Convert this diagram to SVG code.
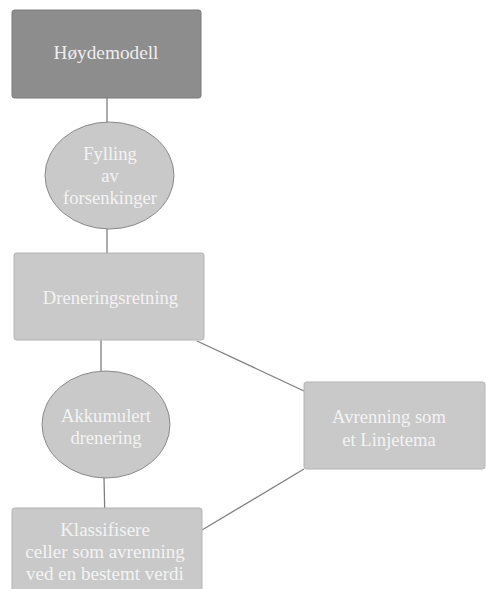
<svg xmlns="http://www.w3.org/2000/svg" width="486" height="589" viewBox="0 0 486 589">
<style>
.bg{fill:#ffffff}
.dark{fill:#8d8d8d;stroke:#7a7a7a;stroke-width:1}
.box{fill:#c9c9c9;stroke:#b3b3b3;stroke-width:1}
.ell{fill:#c9c9c9;stroke:#8a8a8a;stroke-width:1}
.conn line{stroke:#7f7f7f;stroke-width:1.3;fill:none}
text{font-family:"Liberation Serif","Times New Roman",serif;text-anchor:middle;fill:#f3f3f3;font-size:18.6px}
.t1{fill:#ededed;font-size:19.3px}
</style>
<rect class="bg" x="0" y="0" width="486" height="589"/>
<g id="connectors" class="conn">
<line x1="107" y1="98" x2="107" y2="122"/>
<line x1="107" y1="229" x2="107" y2="253"/>
<line x1="101" y1="340" x2="101" y2="371"/>
<line x1="104" y1="478" x2="104.7" y2="508"/>
<line x1="197" y1="341" x2="304" y2="391"/>
<line x1="202" y1="530" x2="304" y2="469"/>
</g>
<g id="hoydemodell">
<rect class="dark" x="12" y="10" width="189" height="88" rx="2.5"/>
<text class="t1" x="106" y="59">Høydemodell</text>
</g>
<g id="fylling">
<ellipse class="ell" cx="109.5" cy="175.5" rx="64.5" ry="53.5"/>
<text x="110" y="160">Fylling</text>
<text x="110" y="182">av</text>
<text x="110" y="204">forsenkinger</text>
</g>
<g id="dreneringsretning">
<rect class="box" x="14" y="253" width="190" height="87" rx="2.5"/>
<text x="110.5" y="304">Dreneringsretning</text>
</g>
<g id="akkumulert">
<ellipse class="ell" cx="106" cy="424.5" rx="64" ry="53.5"/>
<text x="106" y="422">Akkumulert</text>
<text x="106" y="444">drenering</text>
</g>
<g id="klassifisere">
<rect class="box" x="12" y="508" width="190" height="100" rx="2.5"/>
<text x="105" y="536" style="font-size:19px">Klassifisere</text>
<text x="105" y="558" style="font-size:19px">celler som avrenning</text>
<text x="105" y="580" style="font-size:19px">ved en bestemt verdi</text>
</g>
<g id="avrenning">
<rect class="box" x="304" y="382" width="181" height="87" rx="2.5"/>
<text x="389" y="423">Avrenning som</text>
<text x="389" y="446">et Linjetema</text>
</g>
</svg>
